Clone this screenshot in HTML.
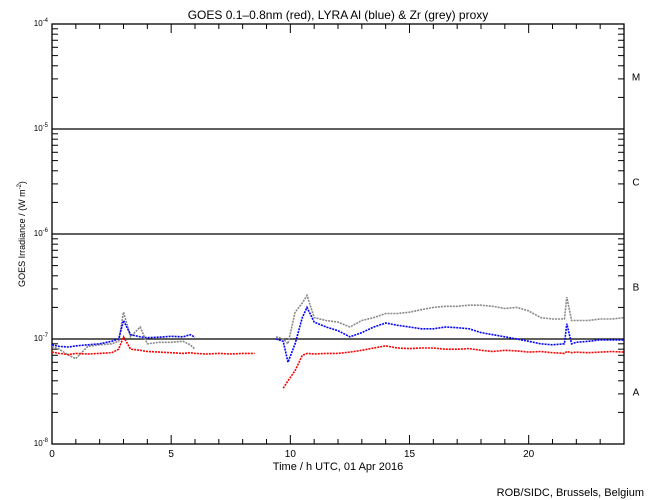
<!DOCTYPE html>
<html><head><meta charset="utf-8"><style>
body{margin:0;background:#fff;}
svg{display:block;font-family:"Liberation Sans",sans-serif;}
</style></head><body>
<svg id="c" width="650" height="500">
<text x="338" y="19" font-size="12" text-anchor="middle">GOES 0.1–0.8nm (red), LYRA Al (blue) &amp; Zr (grey) proxy</text>
<text transform="translate(25,234) rotate(-90)" font-size="9" text-anchor="middle">GOES Irradiance / (W m<tspan dy="-4" font-size="6">-2</tspan><tspan dy="4">)</tspan></text>
<text x="338" y="470" font-size="11" text-anchor="middle">Time / h UTC, 01 Apr 2016</text>
<text x="644" y="496" font-size="11" text-anchor="end">ROB/SIDC, Brussels, Belgium</text>
<g id="axes"></g><g id="series"></g>
</svg>
<script>
const hours=[0,0.3,0.7,1,1.5,2,2.5,2.8,3,3.3,3.7,4,4.5,5,5.5,5.8,6,6.5,7,7.5,8,8.5,null,9.4,9.7,9.9,10.2,10.5,10.7,11,11.5,12,12.5,13,13.5,14,14.5,15,15.5,16,16.5,17,17.5,18,18.5,19,19.5,20,20.5,21,21.5,21.6,21.8,22,22.5,23,23.5,24];
const goesRed=[7.5,7.3,7.1,7.3,7.2,7.3,7.4,8,10.5,8,7.8,7.6,7.5,7.4,7.3,7.4,7.3,7.2,7.3,7.2,7.3,7.3,null,null,3.4,4,5,7,7.3,7.2,7.3,7.3,7.5,7.8,8.2,8.6,8.2,8.1,8.2,8.2,8,8,8.1,7.8,7.6,7.8,7.7,7.5,7.6,7.4,7.3,7.6,7.4,7.5,7.4,7.5,7.6,7.5];
const lyraAl=[8.8,8.5,8.4,8.6,8.8,9,9.5,10,15,11,10.5,10.3,10.4,10.6,10.5,11,10.4,null,null,null,null,null,null,10,9.5,6,9,16,20,14.5,13,12,10.5,11.5,13,14.2,13.5,13,12.5,12.5,13,12.8,12.5,11.5,11,10.5,10,9.5,9,8.8,9,14,9,9.3,9.5,9.8,9.8,9.8];
const lyraZr=[8.5,8,7,6.5,8.5,8.8,9,9.5,18,10.5,13,9,9.3,9.3,9.5,8.8,8,null,null,null,null,null,null,10.5,10,9,18,22,26,16,15,14.5,13,15,16,17.5,17.5,18,19,20,20.5,20.5,21,21,20.5,19.5,20,18.5,16,15.5,15.5,25,15,15,15,15.5,15.5,16];
const xMajor=[0,5,10,15,20];
const classLabels=["A","B","C","M"];
const L=52,R=624,T=24,B=444,DEC=105;
const X=h=>L+(R-L)*h/24;
const Y=v=>B-DEC*Math.log10(v);   // v in units of 1e-8 W/m2
const ns="http://www.w3.org/2000/svg";
function mk(p,t,a){const e=document.createElementNS(ns,t);for(const k in a)e.setAttribute(k,a[k]);p.appendChild(e);return e;}
const ax=document.getElementById('axes');
const frame=mk(ax,'rect',{x:L,y:T,width:R-L,height:B-T,fill:'none',stroke:'#000','stroke-width':1.3});


for(let d=0;d<4;d++){for(let m=2;m<=9;m++){const y=Y(Math.pow(10,d)*m);
mk(ax,'line',{x1:L,x2:L+6,y1:y,y2:y,stroke:'#000'});mk(ax,'line',{x1:R-6,x2:R,y1:y,y2:y,stroke:'#000'});}}
const exps=["-8","-7","-6","-5","-4"];
for(let d=0;d<=4;d++){const y=Y(Math.pow(10,d));
const t=mk(ax,'text',{x:L-4,y:y+2,'font-size':8,'text-anchor':'end'});


t.innerHTML='10<tspan dy="-4" font-size="6">'+exps[d]+'</tspan>';
if(d>=1&&d<=3){const g=mk(ax,'line',{x1:L,x2:R,y1:y,y2:y,stroke:'#000','stroke-width':1.3});

}}
classLabels.forEach((c,i)=>{const t=mk(ax,'text',{x:636,y:Y(Math.pow(10,i+0.5))+4,'font-size':10,'text-anchor':'middle'});


t.textContent=c;});
for(let h=0;h<=24;h++){const x=X(h);const len=xMajor.includes(h)?9:5;
mk(ax,'line',{x1:x,x2:x,y1:B,y2:B-len,stroke:'#000'});mk(ax,'line',{x1:x,x2:x,y1:T,y2:T+len,stroke:'#000'});}
xMajor.forEach(h=>{const t=mk(ax,'text',{x:X(h),y:457,'font-size':10,'text-anchor':'middle'});


t.textContent=h;});
const sg=document.getElementById('series');
function draw(vals,col,name){let pts=[];const segs=[];
hours.forEach((h,i)=>{const v=vals[i];if(h===null||v===null){if(pts.length)segs.push(pts);pts=[];return;}pts.push(X(h).toFixed(1)+','+Y(v).toFixed(1));});
if(pts.length)segs.push(pts);
segs.forEach(s=>{const p=mk(sg,'polyline',{points:s.join(' '),fill:'none',stroke:col,'stroke-width':1.6,'stroke-dasharray':'2,1'});

});}
draw(lyraZr,'#888','lyra-zr-series');
draw(goesRed,'#f00','goes-series');
draw(lyraAl,'#00f','lyra-al-series');
</script>
</body></html>
